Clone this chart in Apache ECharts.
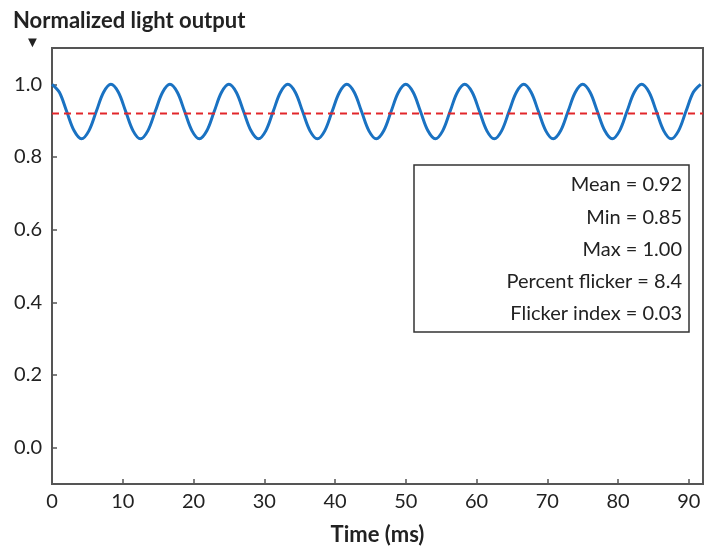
<!DOCTYPE html>
<html><head><meta charset="utf-8">
<script src="https://cdn.jsdelivr.net/npm/echarts@6/dist/echarts.min.js"></script>
<style>html,body{margin:0;padding:0;background:#fff}#c{width:720px;height:554px}</style>
</head><body><div id="c"></div>
<script>
const timeMs = [0,1.04,2.08,3.13,4.17,5.21,6.25,7.29,8.33,9.38,10.42,11.46,12.5,13.54,14.58,15.63,16.67,17.71,18.75,19.79,20.83,21.88,22.92,23.96,25,26.04,27.08,28.13,29.17,30.21,31.25,32.29,33.33,34.38,35.42,36.46,37.5,38.54,39.58,40.63,41.67,42.71,43.75,44.79,45.83,46.88,47.92,48.96,50,51.04,52.08,53.13,54.17,55.21,56.25,57.29,58.33,59.38,60.42,61.46,62.5,63.54,64.58,65.63,66.67,67.71,68.75,69.79,70.83,71.88,72.92,73.96,75,76.04,77.08,78.13,79.17,80.21,81.25,82.29,83.33,84.38,85.42,86.46,87.5,88.54,89.58,90.63,91.67];
const output = [1.00,0.978,0.925,0.872,0.85,0.872,0.925,0.978,1.00,0.978,0.925,0.872,0.85,0.872,0.925,0.978,1.00,0.978,0.925,0.872,0.85,0.872,0.925,0.978,1.00,0.978,0.925,0.872,0.85,0.872,0.925,0.978,1.00,0.978,0.925,0.872,0.85,0.872,0.925,0.978,1.00,0.978,0.925,0.872,0.85,0.872,0.925,0.978,1.00,0.978,0.925,0.872,0.85,0.872,0.925,0.978,1.00,0.978,0.925,0.872,0.85,0.872,0.925,0.978,1.00,0.978,0.925,0.872,0.85,0.872,0.925,0.978,1.00,0.978,0.925,0.872,0.85,0.872,0.925,0.978,1.00,0.978,0.925,0.872,0.85,0.872,0.925,0.978,1.00];
const meanValue = 0.92;
const xTicks = [0,10,20,30,40,50,60,70,80,90];
const yTicks = [0,0.2,0.4,0.6,0.8,1.0];
const statLines = ['Mean = 0.92','Min = 0.85','Max = 1.00','Percent flicker = 8.4','Flicker index = 0.03'];

const FONT = 'Lato';
const chart = echarts.init(document.getElementById('c'));
const pts = timeMs.map((t,i)=>[t,output[i]]);
const axisCommon = {
  axisLine:{show:true,onZero:false,lineStyle:{color:'#555',width:2}},
  axisTick:{show:true,inside:true,length:5,lineStyle:{color:'#555',width:1.5}},
  splitLine:{show:false},
  axisLabel:{color:'#222',fontSize:20,fontFamily:FONT}
};
chart.setOption({
  animation:false,
  grid:{left:52,right:17,top:48,bottom:70,show:true,borderColor:'#555',borderWidth:2,backgroundColor:'transparent'},
  title:{text:'Normalized light output',left:8,top:5,textStyle:{fontSize:22,fontWeight:'bold',fontFamily:FONT,color:'#222'}},
  xAxis:{type:'value',min:0,max:92,name:'Time (ms)',nameLocation:'middle',nameGap:40,
    nameTextStyle:{fontSize:22,fontWeight:'bold',fontFamily:FONT,color:'#222'},
    ...axisCommon,
    axisTick:{...axisCommon.axisTick,customValues:xTicks},
    axisLabel:{...axisCommon.axisLabel,customValues:xTicks,margin:8}},
  yAxis:{type:'value',min:-0.1,max:1.1,...axisCommon,
    axisTick:{...axisCommon.axisTick,customValues:yTicks},
    axisLabel:{...axisCommon.axisLabel,customValues:yTicks,margin:10,formatter:v=>v.toFixed(1)}},
  series:[
    {type:'line',data:pts,smooth:0.35,showSymbol:false,lineStyle:{color:'#1a72c2',width:3},z:3},
    {type:'line',data:[[0,meanValue],[92,meanValue]],showSymbol:false,lineStyle:{color:'#e2262b',width:2,type:[7,5]},z:4}
  ],
  graphic:[
    {type:'text',left:25,top:35,style:{text:'▼',fontSize:15,fill:'#222'}},
    {type:'rect',shape:{x:414,y:165,width:275,height:167},style:{fill:'#fff',stroke:'#333',lineWidth:1.5},z:10},
    ...statLines.map((s,i)=>({type:'text',z:11,style:{text:s,x:682,y:185+i*32.2,align:'right',verticalAlign:'middle',fontSize:20,fontFamily:FONT,fill:'#222'}}))
  ]
});
</script></body></html>
